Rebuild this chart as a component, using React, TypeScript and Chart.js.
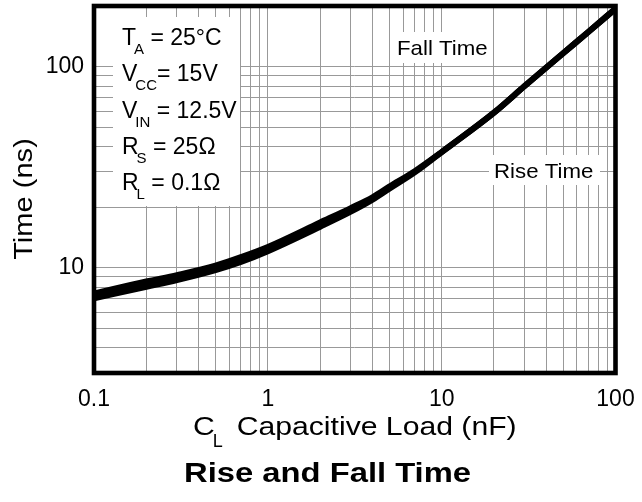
import React, { useEffect, useRef } from "react";
import { Chart, registerables } from "chart.js";

Chart.register(...registerables);

// ---- data ----
const capLoad = [0.1, 0.2, 0.3, 0.5, 0.7, 1, 2, 3, 4, 5, 7, 10, 20, 30, 50, 70, 100];
const riseTime = [7.05, 8.05, 8.7, 9.75, 10.7, 12.1, 16.0, 19.0, 21.8, 24.7, 29.8, 37.6, 59, 80, 116.5, 149, 194];
const fallTime = [7.45, 8.55, 9.2, 10.25, 11.3, 12.7, 16.8, 19.8, 22.4, 25.3, 30.2, 37.6, 59, 80, 116.5, 149, 194];

const xTickValues = [0.1, 1, 10, 100];
const xTickLabels = ["0.1", "1", "10", "100"];
const yTickValues = [10, 100];
const yTickLabels = ["10", "100"];

const xMin = 0.1;
const xMax = 100;
const yMin = 3;
const yMax = 200;

const conditions = [
  { main: "T", sub: "A", rest: " = 25°C" },
  { main: "V", sub: "CC", rest: "= 15V" },
  { main: "V", sub: "IN", rest: " = 12.5V" },
  { main: "R", sub: "S", rest: " = 25Ω" },
  { main: "R", sub: "L", rest: " = 0.1Ω" },
];

const FONT = "'Liberation Sans', Arial, Helvetica, sans-serif";

function logGrid(min: number, max: number): number[] {
  const out: number[] = [];
  for (let e = Math.floor(Math.log10(min)); e <= Math.ceil(Math.log10(max)); e++) {
    for (let m = 1; m <= 9; m++) {
      const v = parseFloat((m * Math.pow(10, e)).toPrecision(6));
      if (v >= min - 1e-9 && v <= max + 1e-9) out.push(v);
    }
  }
  return out;
}

function stretchText(
  ctx: CanvasRenderingContext2D,
  text: string,
  x: number,
  y: number,
  sx: number
) {
  ctx.save();
  ctx.translate(x, y);
  ctx.scale(sx, 1);
  ctx.fillText(text, 0, 0);
  ctx.restore();
}

const decorPlugin = {
  id: "decor",
  beforeDatasetsDraw(chart: any) {
    const ctx: CanvasRenderingContext2D = chart.ctx;
    const area = chart.chartArea;
    ctx.save();
    // white boxes masking the grid behind labels
    ctx.fillStyle = "#ffffff";
    ctx.fillRect(area.left + 19, area.top + 11, 127, 189);
    ctx.fillRect(390, 32, 102, 31);
    ctx.fillRect(489, 155, 111, 30);

    ctx.fillStyle = "#000";
    ctx.textBaseline = "alphabetic";
    ctx.textAlign = "left";
    // conditions block
    conditions.forEach((c, i) => {
      const base = 45 + i * 36.3;
      let x = 122;
      ctx.font = `23px ${FONT}`;
      ctx.fillText(c.main, x, base);
      x += ctx.measureText(c.main).width - 2;
      ctx.font = `15px ${FONT}`;
      ctx.fillText(c.sub, x, base + 9);
      x += ctx.measureText(c.sub).width;
      ctx.font = `23px ${FONT}`;
      ctx.fillText(c.rest, x, base);
    });

    ctx.font = `21px ${FONT}`;
    stretchText(ctx, "Fall Time", 397, 55, 1.06);
    stretchText(ctx, "Rise Time", 494, 178, 1.06);
    ctx.restore();
  },
  afterDatasetsDraw(chart: any) {
    const ctx: CanvasRenderingContext2D = chart.ctx;
    const area = chart.chartArea;
    const xs = chart.scales.x;
    const ys = chart.scales.y;
    ctx.save();
    // frame
    ctx.strokeStyle = "#000";
    ctx.lineWidth = 4.6;
    ctx.strokeRect(area.left, area.top, area.right - area.left, area.bottom - area.top);

    ctx.fillStyle = "#000";
    // x tick labels
    ctx.font = `23px ${FONT}`;
    ctx.textAlign = "center";
    ctx.textBaseline = "alphabetic";
    xTickValues.forEach((v, i) => {
      ctx.fillText(xTickLabels[i], xs.getPixelForValue(v), 406);
    });
    // y tick labels
    ctx.textAlign = "right";
    yTickValues.forEach((v, i) => {
      ctx.fillText(yTickLabels[i], 84, ys.getPixelForValue(v) + 6.5);
    });

    // x axis title with subscript
    const sx = 1.16;
    ctx.textAlign = "left";
    ctx.font = `26px ${FONT}`;
    const wC = ctx.measureText("C").width * sx;
    const rest = "Capacitive Load (nF)";
    const wRest = ctx.measureText(rest).width * sx;
    ctx.font = `18px ${FONT}`;
    const wL = ctx.measureText("L").width;
    const gap = 14;
    const total = wC - 2 + wL + gap + wRest;
    let x = (area.left + area.right) / 2 - total / 2;
    ctx.font = `26px ${FONT}`;
    stretchText(ctx, "C", x, 435, sx);
    x += wC - 2;
    ctx.font = `18px ${FONT}`;
    ctx.fillText("L", x, 447);
    x += wL + gap;
    ctx.font = `26px ${FONT}`;
    stretchText(ctx, rest, x, 435, sx);

    // y axis title (rotated)
    ctx.save();
    ctx.translate(31.5, 199);
    ctx.rotate(-Math.PI / 2);
    ctx.font = `25.5px ${FONT}`;
    ctx.textAlign = "center";
    ctx.scale(1.14, 1);
    ctx.fillText("Time (ns)", 0, 0);
    ctx.restore();

    // chart title
    ctx.font = `bold 28px ${FONT}`;
    ctx.textAlign = "left";
    stretchText(ctx, "Rise and Fall Time", 184, 482, 1.17);
    ctx.restore();
  },
};

export default function App() {
  const canvasRef = useRef<HTMLCanvasElement | null>(null);

  useEffect(() => {
    const canvas = canvasRef.current;
    if (!canvas) return;
    const gridX = logGrid(xMin, xMax);
    const gridY = logGrid(yMin, yMax);
    const chart = new Chart(canvas, {
      type: "line",
      data: {
        datasets: [
          {
            label: "Fall Time",
            data: capLoad.map((x, i) => ({ x, y: fallTime[i] })),
            borderColor: "#000",
            borderWidth: 6,
            pointRadius: 0,
            cubicInterpolationMode: "monotone",
            fill: false,
          },
          {
            label: "Rise Time",
            data: capLoad.map((x, i) => ({ x, y: riseTime[i] })),
            borderColor: "#000",
            borderWidth: 6,
            pointRadius: 0,
            cubicInterpolationMode: "monotone",
            fill: false,
          },
        ],
      },
      options: {
        animation: false,
        responsive: false,
        devicePixelRatio: 1,
        layout: { padding: { left: 0, right: 26.5, top: 6, bottom: 0 } },
        plugins: {
          legend: { display: false },
          tooltip: { enabled: false },
          title: { display: false },
        },
        scales: {
          x: {
            type: "logarithmic",
            min: xMin,
            max: xMax,
            border: { display: false },
            grid: { color: "#999999", lineWidth: 1, drawTicks: false },
            ticks: { display: false },
            afterBuildTicks: (s: any) => {
              s.ticks = gridX.map((v) => ({ value: v }));
            },
            afterFit: (s: any) => {
              s.height = 502 - 373;
            },
          },
          y: {
            type: "logarithmic",
            min: yMin,
            max: yMax,
            border: { display: false },
            grid: { color: "#999999", lineWidth: 1, drawTicks: false },
            ticks: { display: false },
            afterBuildTicks: (s: any) => {
              s.ticks = gridY.map((v) => ({ value: v }));
            },
            afterFit: (s: any) => {
              s.width = 94;
            },
          },
        },
      } as any,
      plugins: [decorPlugin],
    });
    return () => chart.destroy();
  }, []);

  return (
    <div style={{ position: "absolute", left: 0, top: 0, width: 642, height: 502, background: "#fff" }}>
      <canvas ref={canvasRef} width={642} height={502} style={{ display: "block" }} />
    </div>
  );
}
